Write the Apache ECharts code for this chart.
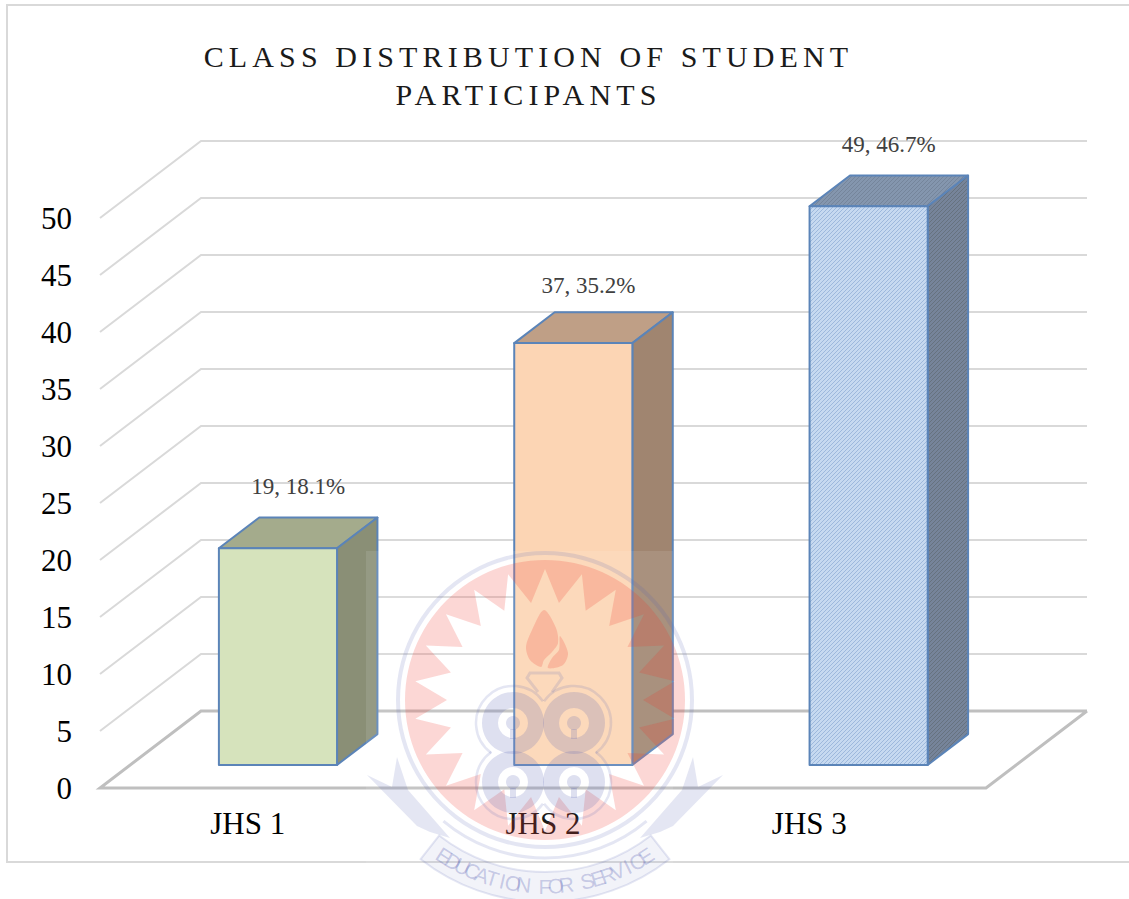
<!DOCTYPE html>
<html>
<head>
<meta charset="utf-8">
<title>Class distribution of student participants</title>
<script src="https://cdn.jsdelivr.net/npm/echarts@6/dist/echarts.min.js"></script>
<style>
    html, body { margin: 0; padding: 0; background: #fff; }
    #main { width: 1129px; height: 899px; }
    /* only the title uses the Times fallback, so this hits the title alone */
    #main text[style*="Times"] { letter-spacing: 5.13px; }
</style>
</head>
<body>
<div id="main"></div>
<script>
// data
const categories = ['JHS 1', 'JHS 2', 'JHS 3'];
const counts = [19, 37, 49];
const percents = [18.1, 35.2, 46.7];
const ticks = [0, 5, 10, 15, 20, 25, 30, 35, 40, 45, 50];

const titleText = 'CLASS DISTRIBUTION OF STUDENT\nPARTICIPANTS';
const serif = "'Liberation Serif'";

// fake 3d: how far the back wall sits from the front plane
const DEPTH = [101, -77];
const BAR_WIDTH = 0.4;
const BAR_NEAR = 0.3;
const BAR_FAR = 0.7;

function hatch(base, line) {
    const c = document.createElement('canvas');
    c.width = 4;
    c.height = 4;
    const g = c.getContext('2d');
    g.fillStyle = base;
    g.fillRect(0, 0, 4, 4);
    g.strokeStyle = line;
    g.lineWidth = 1;
    g.beginPath();
    g.moveTo(0, 4); g.lineTo(4, 0);
    g.moveTo(-1, 1); g.lineTo(1, -1);
    g.moveTo(3, 5); g.lineTo(5, 3);
    g.stroke();
    return { image: c, repeat: 'repeat' };
}

const barColors = [
    { front: '#d6e3bc', top: '#a4ab8c', side: '#8a8f76' },
    { front: '#fcd5b4', top: '#bf9f86', side: '#a08570' },
    { front: hatch('#c6d9f0', '#9db8dc'), top: hatch('#8496ae', '#75859b'), side: hatch('#76849a', '#66727f') }
];
const BAR_EDGE = '#5b84b8';
const labelNudge = [[0, 0], [-5, 4], [0, 0]];

function renderWall(params, api) {
    const v = api.value(0);
    const p = api.coord([0, v]);
    const x0 = params.coordSys.x;
    const x1 = x0 + params.coordSys.width;
    const y = p[1];
    const floor = v === 0;
    return {
        type: 'polyline',
        shape: {
            points: floor
                ? [[x1 + DEPTH[0], y + DEPTH[1]], [x0 + DEPTH[0], y + DEPTH[1]], [x0, y], [x1, y], [x1 + DEPTH[0], y + DEPTH[1]]]
                : [[x0, y], [x0 + DEPTH[0], y + DEPTH[1]], [x1 + DEPTH[0], y + DEPTH[1]]]
        },
        style: { fill: 'none', stroke: floor ? '#bfbfbf' : '#d9d9d9', lineWidth: floor ? 3 : 2 }
    };
}

function renderBar(params, api) {
    const i = api.value(0);
    const top = api.coord([i, api.value(1)]);
    const base = api.coord([i, 0]);
    const w = api.size([1, 0])[0] * BAR_WIDTH;
    const dx = DEPTH[0] * BAR_NEAR, dy = DEPTH[1] * BAR_NEAR;
    const bx = DEPTH[0] * (BAR_FAR - BAR_NEAR), by = DEPTH[1] * (BAR_FAR - BAR_NEAR);
    const l = top[0] - w / 2 + dx, r = top[0] + w / 2 + dx;
    const t = top[1] + dy, b = base[1] + dy;
    const col = barColors[i];
    const edge = { stroke: BAR_EDGE, lineWidth: 2, lineJoin: 'round' };
    const nudge = labelNudge[i];
    return {
        type: 'group',
        children: [
            { type: 'polygon', shape: { points: [[l, t], [r, t], [r + bx, t + by], [l + bx, t + by]] }, style: Object.assign({ fill: col.top }, edge) },
            { type: 'polygon', shape: { points: [[r, t], [r + bx, t + by], [r + bx, b + by], [r, b]] }, style: Object.assign({ fill: col.side }, edge) },
            { type: 'rect', shape: { x: l, y: t, width: r - l, height: b - t }, style: Object.assign({ fill: col.front }, edge) },
            {
                type: 'text',
                style: {
                    text: counts[i] + ', ' + percents[i].toFixed(1) + '%',
                    x: (l + r + bx) / 2 + nudge[0],
                    y: t + by - 31 + nudge[1],
                    align: 'center',
                    verticalAlign: 'middle',
                    fontFamily: serif,
                    fontSize: 23,
                    fill: '#404040'
                }
            }
        ]
    };
}

// the faint university seal laid over the whole chart
function seal() {
    const cx = 545, cy = 700;
    const blue = 'rgba(90,100,180,0.2)';
    const line = 'rgba(90,100,180,0.16)';
    const red = 'rgba(240,55,45,0.2)';
    const kids = [];
    const pts = [];
    for (let a = 0; a <= 360; a += 3) {
        const t = a * Math.PI / 180;
        pts.push([cx + 140 * Math.sin(t), cy - 140 * Math.cos(t)]);
    }
    const spikes = 22;
    for (let k = spikes * 2; k >= 0; k--) {
        const t = k * Math.PI / spikes;
        const rad = k % 2 === 0 ? 131 : 98;
        pts.push([cx + rad * Math.sin(t), cy - rad * Math.cos(t)]);
    }
    kids.push({ type: 'polygon', shape: { points: pts }, style: { fill: red } });
    kids.push({ type: 'ring', shape: { cx: cx, cy: cy, r: 149, r0: 145 }, style: { fill: line } });

    // four lobes, each with a keyhole, and one outline round them all
    const deg = Math.PI / 180;
    [[513, 723, 126, 324], [574, 723, 216, 414], [574, 782, 306, 504], [513, 782, 36, 234]].forEach(function (c) {
        kids.push({ type: 'ring', shape: { cx: c[0], cy: c[1], r: 31, r0: 15 }, style: { fill: blue } });
        kids.push({ type: 'circle', shape: { cx: c[0], cy: c[1], r: 7 }, style: { fill: blue } });
        kids.push({ type: 'rect', shape: { x: c[0] - 3, y: c[1] + 6, width: 6, height: 10 }, style: { fill: blue } });
        kids.push({ type: 'arc', shape: { cx: c[0], cy: c[1], r: 37, startAngle: c[2] * deg, endAngle: c[3] * deg }, style: { fill: 'none', stroke: line, lineWidth: 2.5 } });
    });
    // flame in two parts with the gap between them
    kids.push({
        type: 'polygon',
        shape: { points: [[544, 610], [556, 628], [558, 643], [552, 652], [544, 660], [541, 667], [530, 660], [526, 647], [532, 630]], smooth: 0.3 },
        style: { fill: red }
    });
    kids.push({
        type: 'polygon',
        shape: { points: [[560, 636], [568, 653], [563, 665], [548, 668], [552, 658], [559, 650]], smooth: 0.3 },
        style: { fill: red }
    });
    kids.push({ type: 'polyline', shape: { points: [[538, 692], [527, 678], [530, 673], [559, 673], [562, 678], [552, 692]] }, style: { fill: 'none', stroke: line, lineWidth: 3 } });

    [-1, 1].forEach(function (s) {
        const m = function (x, y) { return [cx + s * x, y]; };
        kids.push({ type: 'polygon', shape: { points: [m(178, 775), m(153, 787), m(148, 757), m(137, 790), m(95, 838), m(115, 832), m(128, 826)] }, style: { fill: line } });
    });
    // ribbon under the ring
    kids.push({ type: 'sector', shape: { cx: cx, cy: cy, r: 202, r0: 172, startAngle: 52 * deg, endAngle: 128 * deg }, style: { fill: 'rgba(90,100,180,0.08)', stroke: line, lineWidth: 2 } });
    kids.push({ type: 'arc', shape: { cx: cx, cy: cy, r: 158, startAngle: 50 * deg, endAngle: 130 * deg }, style: { fill: 'none', stroke: line, lineWidth: 3 } });

    const motto = 'EDUCATION FOR SERVICE';
    const step = 0.0575;
    motto.split('').forEach(function (ch, k) {
        const a = (k - (motto.length - 1) / 2) * step;
        kids.push({
            type: 'text',
            x: cx + 186 * Math.sin(a),
            y: cy + 186 * Math.cos(a),
            rotation: a,
            style: { text: ch, align: 'center', verticalAlign: 'middle', fontFamily: "'Liberation Sans'", fontSize: 21, fill: 'rgba(90,100,180,0.3)' }
        });
    });
    kids.forEach(function (k) { k.z = 60; k.silent = true; });
    return kids;
}

const chart = echarts.init(document.getElementById('main'), null, { renderer: 'svg' });
chart.setOption({
    animation: false,
    title: {
        text: titleText,
        left: 523.5,
        top: 32,
        textAlign: 'center',
        textStyle: { fontFamily: serif + ', Times', fontSize: 30, fontWeight: 'normal', color: '#1a1a1a', lineHeight: 38 }
    },
    grid: { left: 100, right: 143, top: 218, bottom: 111 },
    xAxis: {
        type: 'category',
        data: categories.map(function (c, i) {
            // the last label sits left of its band in the reference
            return i === 2 ? { value: c, textStyle: { padding: [0, 58, 0, 0] } } : c;
        }),
        axisLine: { show: false },
        axisTick: { show: false },
        axisLabel: { fontFamily: serif, fontSize: 31, color: '#000', margin: 20 }
    },
    yAxis: {
        type: 'value',
        min: 0,
        max: 50,
        interval: 5,
        axisLine: { show: false },
        axisTick: { show: false },
        splitLine: { show: false },
        axisLabel: { fontFamily: serif, fontSize: 31, color: '#000', margin: 28 }
    },
    series: [
        {
            name: 'walls',
            type: 'custom',
            z: 1,
            silent: true,
            renderItem: renderWall,
            encode: { y: 0 },
            data: ticks.map(function (t) { return [t]; })
        },
        {
            name: 'Students',
            type: 'custom',
            z: 2,
            renderItem: renderBar,
            encode: { x: 0, y: 1 },
            data: counts.map(function (c, i) { return [i, c]; })
        }
    ],
    graphic: [
        { type: 'rect', z: -1, silent: true, shape: { x: 7, y: 5, width: 1140, height: 857 }, style: { fill: '#fff', stroke: '#d9d9d9', lineWidth: 2 } },
        { type: 'rect', z: 50, silent: true, shape: { x: 366, y: 551, width: 307, height: 320 }, style: { fill: 'rgba(255,255,255,0.1)' } },
        { type: 'group', silent: true, children: seal() }
    ]
});
</script>
</body>
</html>
